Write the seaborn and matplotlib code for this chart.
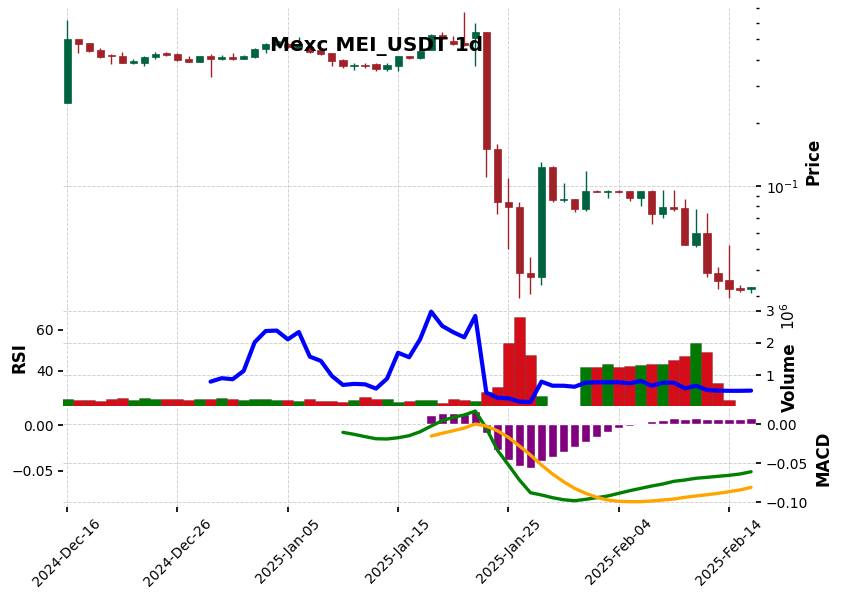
import numpy as np
import pandas as pd
import matplotlib
matplotlib.use('Agg')
import matplotlib.pyplot as plt
import matplotlib.ticker as mticker
import seaborn as sns

# daily candles, Mexc MEI_USDT
dates = pd.date_range('2024-12-16', periods=63, freq='D')
opens = [0.248, 0.501, 0.480, 0.444, 0.421, 0.416, 0.387, 0.385, 0.410, 0.428,
         0.427, 0.403, 0.391, 0.417, 0.404, 0.413, 0.404, 0.413, 0.448, 0.470,
         0.474, 0.454, 0.461, 0.444, 0.428, 0.398, 0.374, 0.378, 0.380, 0.362,
         0.374, 0.416, 0.406, 0.444, 0.524, 0.492, 0.478, 0.505, 0.539, 0.1495,
         0.0836, 0.0792, 0.0387, 0.0368, 0.1236, 0.0858, 0.0867, 0.0780, 0.0949, 0.0939,
         0.0950, 0.0947, 0.0880, 0.0947, 0.0738, 0.0794, 0.0786, 0.0525, 0.0595, 0.0384,
         0.0357, 0.0327, 0.0322]
highs = [0.617, 0.503, 0.482, 0.454, 0.425, 0.433, 0.401, 0.417, 0.433, 0.433,
         0.430, 0.416, 0.418, 0.425, 0.421, 0.428, 0.419, 0.452, 0.481, 0.498,
         0.478, 0.514, 0.466, 0.448, 0.431, 0.401, 0.387, 0.387, 0.385, 0.387,
         0.418, 0.418, 0.443, 0.527, 0.539, 0.518, 0.676, 0.595, 0.542, 0.158,
         0.1088, 0.0836, 0.0461, 0.1305, 0.1240, 0.1037, 0.0870, 0.1175, 0.0955, 0.0955,
         0.0955, 0.0950, 0.0950, 0.0952, 0.0954, 0.0954, 0.0864, 0.0775, 0.0741, 0.0410,
         0.0522, 0.0337, 0.0331]
lows = [0.248, 0.430, 0.436, 0.406, 0.380, 0.384, 0.380, 0.374, 0.403, 0.417,
        0.395, 0.389, 0.389, 0.329, 0.398, 0.398, 0.402, 0.406, 0.428, 0.466,
        0.455, 0.450, 0.432, 0.421, 0.373, 0.366, 0.357, 0.366, 0.354, 0.353,
        0.354, 0.404, 0.404, 0.442, 0.500, 0.470, 0.466, 0.373, 0.1107, 0.0736,
        0.0499, 0.0294, 0.0306, 0.0338, 0.0842, 0.0836, 0.0752, 0.0760, 0.0935, 0.0874,
        0.0930, 0.0848, 0.0803, 0.0657, 0.0702, 0.0760, 0.0523, 0.0514, 0.0368, 0.0322,
        0.0292, 0.0312, 0.0308]
closes = [0.501, 0.476, 0.441, 0.413, 0.415, 0.387, 0.393, 0.412, 0.427, 0.422,
          0.398, 0.391, 0.416, 0.404, 0.413, 0.404, 0.417, 0.449, 0.473, 0.490,
          0.459, 0.474, 0.436, 0.425, 0.395, 0.374, 0.377, 0.374, 0.361, 0.377,
          0.416, 0.406, 0.441, 0.524, 0.505, 0.474, 0.469, 0.539, 0.1495, 0.0836,
          0.0792, 0.0387, 0.0368, 0.1228, 0.0858, 0.0867, 0.0780, 0.0947, 0.0938, 0.0950,
          0.0933, 0.0880, 0.0947, 0.0738, 0.0794, 0.0777, 0.0525, 0.0595, 0.0384, 0.0354,
          0.0324, 0.0321, 0.0330]
volumes = [0.26e6, 0.235e6, 0.235e6, 0.2e6, 0.27e6, 0.3e6, 0.235e6, 0.3e6, 0.27e6, 0.27e6,
           0.27e6, 0.235e6, 0.27e6, 0.27e6, 0.3e6, 0.27e6, 0.235e6, 0.27e6, 0.27e6, 0.235e6,
           0.235e6, 0.2e6, 0.27e6, 0.2e6, 0.2e6, 0.17e6, 0.235e6, 0.33e6, 0.27e6, 0.27e6,
           0.17e6, 0.2e6, 0.235e6, 0.23e6, 0.13e6, 0.27e6, 0.23e6, 0.2e6, 0.47e6, 0.63e6,
           2.0e6, 2.81e6, 1.63e6, 0.36e6, 0, 0, 0, 1.26e6, 1.26e6, 1.35e6,
           1.26e6, 1.29e6, 1.32e6, 1.35e6, 1.35e6, 1.47e6, 1.6e6, 1.99e6, 1.72e6, 0.75e6,
           0.23e6, 0, 0]

# indicators (first valid index given by *_start)
rsi_start = 13
rsi = [34.6, 36.3, 35.8, 39.9, 54.0, 59.5, 59.7, 55.4, 59.0, 46.9,
       44.8, 37.4, 33.0, 33.5, 33.3, 31.2, 36.1, 48.8, 46.6, 55.5,
       69.0, 62.0, 58.9, 56.4, 66.9, 29.2, 26.7, 26.4, 24.8, 24.6,
       34.6, 32.6, 32.6, 32.1, 34.1, 34.3, 34.3, 34.3, 33.8, 34.9,
       32.6, 34.1, 34.1, 31.3, 32.6, 30.5, 30.2, 30.1, 30.1, 30.2]
macd_start = 25
macd = [-0.0103, -0.0128, -0.0158, -0.0185, -0.0188, -0.0172, -0.0146, -0.0095, -0.0022, 0.0046,
        0.0090, 0.0120, 0.0170, -0.0051, -0.0330, -0.0520, -0.0714, -0.0877, -0.0906, -0.0941,
        -0.0967, -0.0980, -0.0962, -0.0941, -0.0919, -0.0885, -0.0851, -0.0821, -0.0791, -0.0765,
        -0.0731, -0.0714, -0.0692, -0.0680, -0.0667, -0.0654, -0.0637, -0.0608]
signal_start = 33
signal = [-0.0150, -0.0115, -0.0082, -0.0047, 0.0004, -0.0022, -0.0082, -0.0167, -0.0278, -0.0394,
          -0.0522, -0.0637, -0.0736, -0.0821, -0.0885, -0.0936, -0.0971, -0.0987, -0.0992, -0.0992,
          -0.0983, -0.0971, -0.0958, -0.0936, -0.0919, -0.0903, -0.0885, -0.0864, -0.0842, -0.0808]
hist = [0.0119, 0.0141, 0.0141, 0.0132, 0.0171, -0.0107, -0.0330, -0.0458, -0.0530, -0.0556,
        -0.0470, -0.0415, -0.0351, -0.0287, -0.0223, -0.0159, -0.0095, -0.0051, -0.0018, 0.0013,
        0.0042, 0.0055, 0.0081, 0.0072, 0.0081, 0.0072, 0.0072, 0.0072, 0.0072, 0.0081]

df = pd.DataFrame({'open': opens, 'high': highs, 'low': lows, 'close': closes,
                   'volume': volumes}, index=dates)
idx = np.arange(len(df))
up = (df['close'] >= df['open']).values

sns.set_theme(style="ticks", rc={'xtick.labelsize': 10, 'ytick.labelsize': 10,
                                 'xtick.major.size': 3.5, 'ytick.major.size': 3.5,
                                 'ytick.minor.size': 2, 'xtick.color': 'black',
                                 'ytick.color': 'black', 'text.color': 'black',
                                 'axes.unicode_minus': True})

candle_colors = np.where(up, '#006340', '#a02128')
vol_colors = np.where(up, '#007a00', '#d50d18')
grid_kw = dict(linestyle='--', color='#cfcfcf', linewidth=0.65)

fig = plt.figure(figsize=(8.42, 5.99), dpi=100)
left, width = 0.0752, 0.8227
ax_price = fig.add_axes([left, 0.4875, width, 0.4992])
ax_vol = fig.add_axes([left, 0.3214, width, 0.1661], sharex=ax_price)
ax_rsi = ax_vol.twinx()
ax_macd = fig.add_axes([left, 0.1544, width, 0.1669], sharex=ax_price)
ax_macd_l = ax_macd.twinx()

# price panel
ax_price.set_yscale('log')
ax_price.vlines(idx, df['low'], df['high'], colors=candle_colors, linewidth=1)
ax_price.bar(idx, df['close'] - df['open'], bottom=df['open'], width=0.65,
             color=candle_colors, edgecolor=candle_colors, linewidth=0.5)
ax_price.set_ylim(0.02653, 0.704)
ax_price.yaxis.tick_right()
ax_price.yaxis.set_minor_formatter(mticker.NullFormatter())
ax_price.grid(True, which='major', **grid_kw)

# volume + rsi panel
ax_vol.bar(idx, df['volume'], width=1.0, color=vol_colors,
           edgecolor=(0, 0, 0, 0.3), linewidth=0.5)
ax_vol.set_ylim(0.034e6, 3.115e6)
ax_vol.set_yticks([1e6, 2e6, 3e6])
ax_vol.yaxis.set_major_formatter(mticker.FuncFormatter(lambda v, p: f'{v / 1e6:g}'))
ax_vol.yaxis.tick_right()
ax_vol.grid(True, which='major', **grid_kw)

sns.lineplot(x=idx[rsi_start:], y=rsi, ax=ax_rsi, color='blue', linewidth=3)
ax_rsi.set_ylim(22.4, 71.3)
ax_rsi.set_yticks([40, 60])
ax_rsi.yaxis.tick_left()
ax_rsi.grid(False)

# macd panel
ax_macd.bar(idx[signal_start:], hist, width=0.85, color='purple')
sns.lineplot(x=idx[macd_start:], y=macd, ax=ax_macd, color='green', linewidth=2.4)
sns.lineplot(x=idx[signal_start:], y=signal, ax=ax_macd, color='orange', linewidth=2.4)
ax_macd.set_ylim(-0.1054, 0.0228)
ax_macd.set_yticks([0.0, -0.05, -0.10])
ax_macd.yaxis.tick_right()
ax_macd.grid(True, which='major', **grid_kw)

ax_macd_l.set_ylim(-0.0893, 0.0203)
ax_macd_l.set_yticks([0.0, -0.05])
ax_macd_l.yaxis.tick_left()
ax_macd_l.grid(False)

for ax in [ax_macd, ax_macd_l]:
    ax.yaxis.set_major_formatter(mticker.FuncFormatter(
        lambda v, p: f'{v:.2f}'.replace('-', '\u2212') if abs(v) > 1e-9 else '0.00'))

tick_pos = idx[::10]
tick_lab = [d.strftime('%Y-%b-%d') for d in df.index[::10]]
ax_price.set_xlim(-0.35, 62.45)
ax_macd.set_xticks(tick_pos)
ax_macd.set_xticklabels(tick_lab, rotation=45, ha='center')
ax_price.tick_params(axis='x', bottom=False, labelbottom=False)
ax_vol.tick_params(axis='x', bottom=False, labelbottom=False)

for ax in [ax_price, ax_vol, ax_rsi, ax_macd, ax_macd_l]:
    ax.set_xlabel('')
    ax.set_ylabel('')
    for s in ax.spines.values():
        s.set_visible(False)

fig.text(376 / 842, 1 - 46 / 599, 'Mexc MEI_USDT 1d', ha='center', va='center',
         fontsize=14.4, fontweight='bold', color='black')
lab_kw = dict(rotation=90, ha='center', va='center', fontsize=12,
              fontweight='bold', color='black')
fig.text(813 / 842, 1 - 161 / 599, 'Price', **lab_kw)
fig.text(20 / 842, 1 - 358 / 599, 'RSI', **lab_kw)
fig.text(790 / 842, 1 - 377 / 599, 'Volume', **lab_kw)
fig.text(789 / 842, 1 - 316 / 599, r'$10^{6}$', rotation=90, ha='center', va='center',
         fontsize=11, color='black')
fig.text(823 / 842, 1 - 458 / 599, 'MACD', **lab_kw)

fig.savefig('out.png', dpi=100)
